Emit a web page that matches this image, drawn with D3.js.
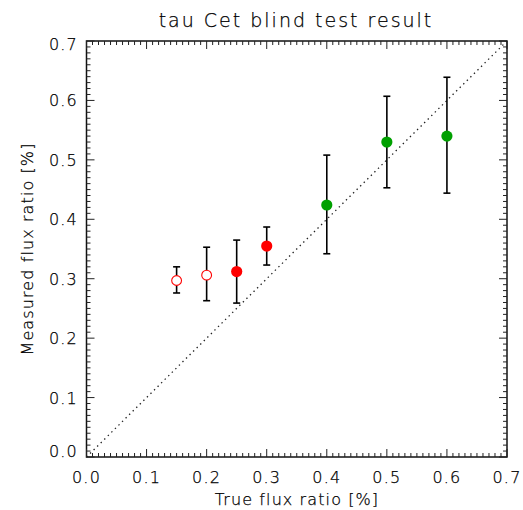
<!DOCTYPE html>
<html lang="en">
<head>
<meta charset="utf-8">
<title>tau Cet blind test result</title>
<script src="https://d3js.org/d3.v7.min.js"></script>
<style>
  body { margin: 0; background: #fff; }
  svg text { font-family: "DejaVu Sans", sans-serif; font-weight: 200; fill: #000; stroke: #000; stroke-width: 0.25; }
</style>
</head>
<body>
<script>
// data
var trueRatio = [0.15, 0.20, 0.25, 0.30, 0.40, 0.50, 0.60];
var measured  = [0.297, 0.306, 0.312, 0.355, 0.424, 0.530, 0.540];
var errLow    = [0.276, 0.263, 0.259, 0.323, 0.342, 0.453, 0.444];
var errHigh   = [0.320, 0.353, 0.365, 0.387, 0.508, 0.607, 0.639];
var markerKind = ['open', 'open', 'red', 'red', 'green', 'green', 'green'];
var tickVals = [0, 0.1, 0.2, 0.3, 0.4, 0.5, 0.6, 0.7];

var W = 523, H = 510;
var m = {left: 86.5, right: 16, top: 41, bottom: 53};

var svg = d3.select('body').append('svg')
  .attr('width', W).attr('height', H);

var x = d3.scaleLinear().domain([0, 0.7]).range([m.left, W - m.right]);
var y = d3.scaleLinear().domain([0, 0.7]).range([H - m.bottom, m.top]);

var x0 = x.range()[0], x1 = x.range()[1], y0 = y.range()[0], y1 = y.range()[1];

// one-to-one dotted line
svg.append('line')
  .attr('x1', x(0)).attr('y1', y(0)).attr('x2', x(0.7)).attr('y2', y(0.7))
  .attr('stroke', '#222').attr('stroke-width', 1.3)
  .attr('stroke-dasharray', '1.4,3.6');

// frame
svg.append('rect')
  .attr('x', x0).attr('y', y1).attr('width', x1 - x0).attr('height', y0 - y1)
  .attr('fill', 'none').attr('stroke', '#111').attr('stroke-width', 1.5);

// ticks on all four sides, pointing inwards
var minor = d3.range(0, 71).map(function(i) { return i / 100; });
var tk = svg.append('g').attr('stroke', '#222').attr('stroke-width', 1);
minor.forEach(function(v, i) {
  var len = (i % 10 === 0) ? 8 : 4;
  tk.append('line').attr('x1', x(v)).attr('x2', x(v)).attr('y1', y0).attr('y2', y0 - len);
  tk.append('line').attr('x1', x(v)).attr('x2', x(v)).attr('y1', y1).attr('y2', y1 + len);
  tk.append('line').attr('y1', y(v)).attr('y2', y(v)).attr('x1', x0).attr('x2', x0 + len);
  tk.append('line').attr('y1', y(v)).attr('y2', y(v)).attr('x1', x1).attr('x2', x1 - len);
});

// tick labels
svg.append('g').selectAll('text').data(tickVals).enter().append('text')
  .attr('x', function(d) { return x(d); })
  .attr('y', 483)
  .attr('text-anchor', 'middle')
  .attr('font-size', 16).attr('letter-spacing', 1.2)
  .text(function(d) { return d.toFixed(1); });

svg.append('g').selectAll('text').data(tickVals).enter().append('text')
  .attr('x', 78)
  .attr('y', function(d) { return Math.max(44, Math.min(451, y(d))) + 6; })
  .attr('text-anchor', 'end')
  .attr('font-size', 16).attr('letter-spacing', 1.2)
  .text(function(d) { return d.toFixed(1); });

// titles
svg.append('text')
  .attr('x', 296).attr('y', 27)
  .attr('text-anchor', 'middle').attr('font-size', 19).attr('letter-spacing', 2)
  .text('tau Cet blind test result');

svg.append('text')
  .attr('x', 297).attr('y', 505)
  .attr('text-anchor', 'middle').attr('font-size', 16).attr('letter-spacing', 1.1)
  .text('True flux ratio [%]');

svg.append('text')
  .attr('transform', 'translate(33,' + ((y0 + y1) / 2) + ') rotate(-90)')
  .attr('text-anchor', 'middle').attr('font-size', 16).attr('letter-spacing', 1.1)
  .text('Measured flux ratio [%]');

// error bars
var pts = trueRatio.map(function(t, i) {
  return {x: t, y: measured[i], lo: errLow[i], hi: errHigh[i], kind: markerKind[i]};
});

var eb = svg.append('g').attr('stroke', '#000').attr('stroke-width', 1.6);
pts.forEach(function(p) {
  eb.append('line').attr('x1', x(p.x)).attr('x2', x(p.x)).attr('y1', y(p.lo)).attr('y2', y(p.hi));
  eb.append('line').attr('x1', x(p.x) - 3.5).attr('x2', x(p.x) + 3.5).attr('y1', y(p.lo)).attr('y2', y(p.lo));
  eb.append('line').attr('x1', x(p.x) - 3.5).attr('x2', x(p.x) + 3.5).attr('y1', y(p.hi)).attr('y2', y(p.hi));
});

// markers
svg.append('g').selectAll('circle').data(pts).enter().append('circle')
  .attr('cx', function(d) { return x(d.x); })
  .attr('cy', function(d) { return y(d.y); })
  .attr('r', function(d) { return d.kind === 'open' ? 4.9 : 5.6; })
  .attr('fill', function(d) {
    if (d.kind === 'open') return '#fff';
    return d.kind === 'red' ? '#ff0000' : '#00a000';
  })
  .attr('stroke', function(d) {
    if (d.kind === 'open') return '#ff0000';
    return 'none';
  })
  .attr('stroke-width', 1.1);
</script>
</body>
</html>
